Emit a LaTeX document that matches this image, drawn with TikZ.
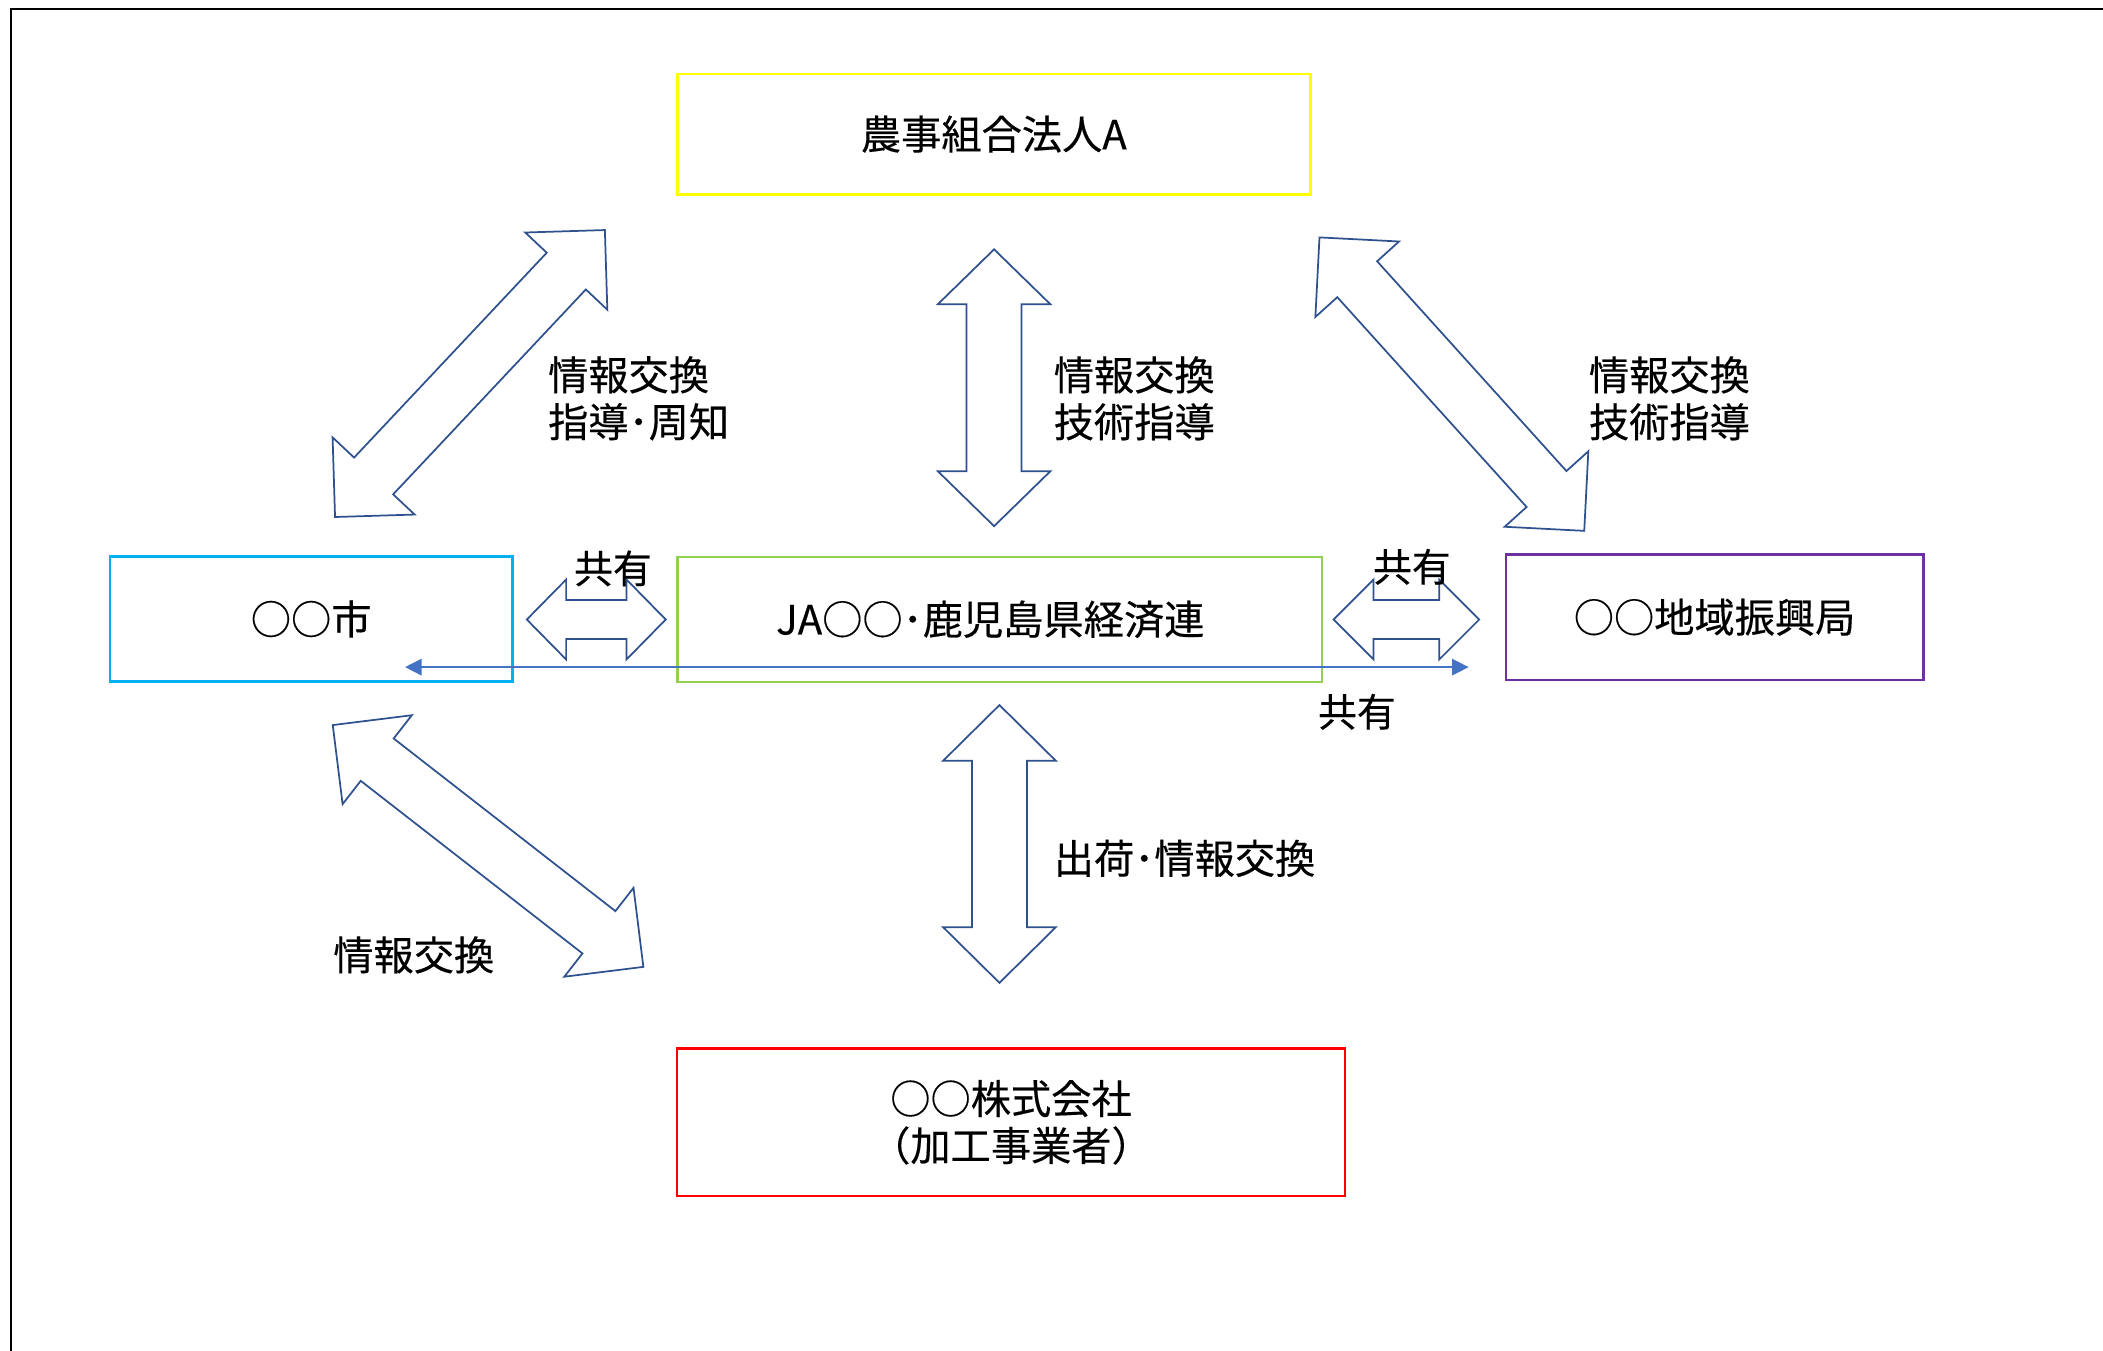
\documentclass[tikz,border=0pt]{standalone}
\usepackage{fontspec}
\setmainfont[FakeBold=0.35]{Noto Sans CJK JP}
\usetikzlibrary{arrows.meta}
\definecolor{ybox}{HTML}{FFFF00}
\definecolor{cbox}{HTML}{00B0F0}
\definecolor{gbox}{HTML}{92D050}
\definecolor{pbox}{HTML}{7030A0}
\definecolor{rbox}{HTML}{FF0000}
\definecolor{arrline}{HTML}{2F528F}
\definecolor{thinarr}{HTML}{4472C4}
\newcommand{\dblarr}[6]{%
  \draw[blockarr, shift={#1}, rotate=#2]
    (-#3,0) -- (-#3+#4,#5) -- (-#3+#4,#6) -- (#3-#4,#6) -- (#3-#4,#5) -- (#3,0)
    -- (#3-#4,-#5) -- (#3-#4,-#6) -- (-#3+#4,-#6) -- (-#3+#4,-#5) -- cycle;}
\tikzset{
  box/.style={draw, line width=1.8pt, inner sep=0pt, align=center,
    font=\fontsize{30}{35}\selectfont},
  blockarr/.style={draw=arrline, fill=white, line width=1.3pt, line join=miter},
  lbl/.style={inner sep=0pt, align=left, font=\fontsize{30}{35}\selectfont},
  share/.style={inner sep=0pt, font=\fontsize{29}{33}\selectfont},
}
\begin{document}
\begin{tikzpicture}[x=1pt, y=-1pt]
\useasboundingbox (0,0) rectangle (1568,1007);
% frame (only top and left edges visible)
\draw[line width=2.2pt] (1568,6.7) -- (8.2,6.7) -- (8.2,1007);

% boxes
\node[box, draw=ybox, minimum width=472pt, minimum height=90pt] (nouji) at (741,100) {農事組合法人A};
\node[box, draw=cbox, minimum width=300pt, minimum height=93pt] (shi) at (232,461.5) {○○市};
\node[box, draw=gbox, minimum width=480.8pt, minimum height=93.3pt] (ja) at (745.4,461.75) {JA○○･鹿児島県経済連\kern14pt};
\node[box, draw=pbox, minimum width=311.2pt, minimum height=93.6pt] (chiiki) at (1278.4,460.2) {○○地域振興局};
\node[box, draw=rbox, minimum width=498.4pt, minimum height=110.2pt] (kaisha) at (753.8,836.8) {○○株式会社\\（加工事業者）};

% block double arrows
\dblarr{(350.4,278.5)}{46.76}{146.85}{42}{42}{20}
\dblarr{(741.2,289.1)}{90}{103.2}{41}{42}{20.5}
\dblarr{(1082.5,286.4)}{-47.94}{147.35}{42}{42}{20}
\dblarr{(363.9,630.75)}{-37.9}{146.75}{42}{42}{20}
\dblarr{(745.2,629.25)}{90}{103.55}{41.5}{42}{20.5}
\dblarr{(444.6,461.9)}{0}{51.8}{29.3}{29.8}{14.6}
\dblarr{(1048.6,461.9)}{0}{54.3}{29.8}{29.8}{14.5}

% thin shared arrow
\coordinate (sL) at (302,497.4);
\coordinate (sR) at (1095,497.4);
\draw[thinarr, line width=1.1pt, {Triangle[length=12.4pt,width=12.4pt]}-{Triangle[length=12.4pt,width=12.4pt]}] (sL) -- (sR);

% labels
\node[lbl, anchor=west] (l1) at (408.5,297) {情報交換\\指導･周知};
\node[lbl, anchor=west] (l2) at (785.5,297) {情報交換\\技術指導};
\node[lbl, anchor=west] (l3) at (1184.5,297) {情報交換\\技術指導};
\node[lbl, anchor=west] (l4) at (785.5,640) {出荷･情報交換};
\node[lbl] (l5) at (308.5,712) {情報交換};
\node[share] (k1) at (457,423.8) {共有};
\node[share] (k2) at (1052.7,422.6) {共有};
\node[share] (k3) at (1011.7,530.7) {共有};
\end{tikzpicture}
\end{document}
